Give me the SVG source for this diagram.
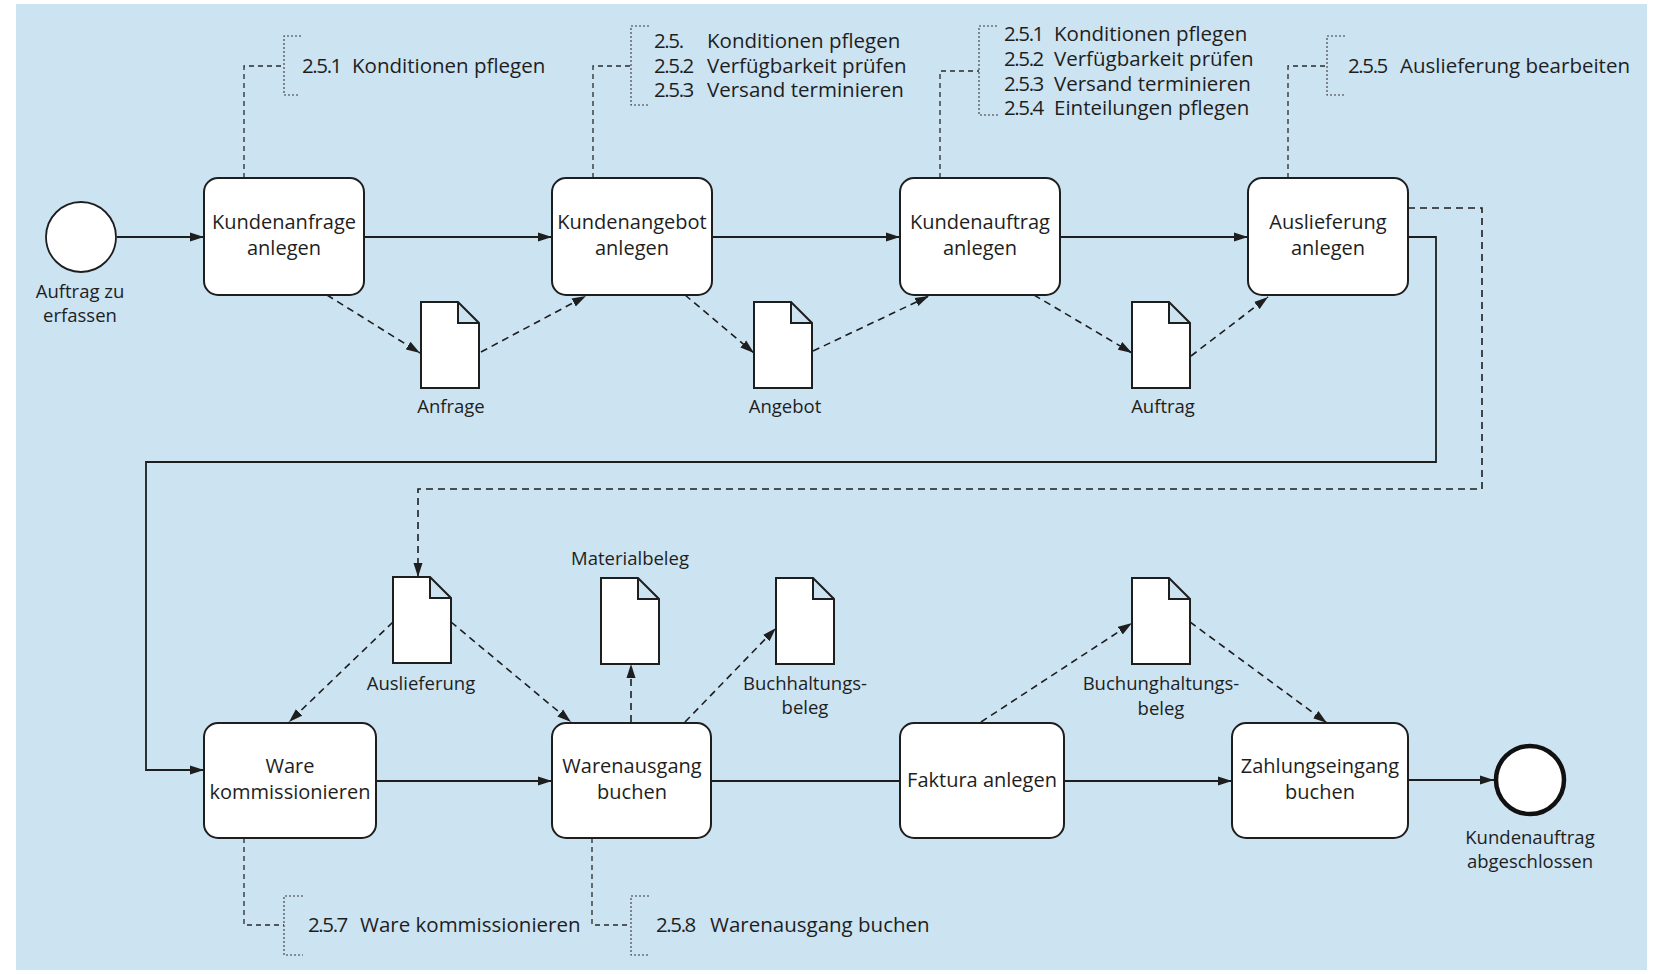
<svg xmlns="http://www.w3.org/2000/svg" width="1661" height="974" viewBox="0 0 1661 974">
  <defs>
    <marker id="arrow" viewBox="0 0 14 10" refX="14" refY="5" markerWidth="14" markerHeight="10" markerUnits="userSpaceOnUse" orient="auto">
      <path d="M0,0.5 L14,5 L0,9.5 z" fill="#1e1e1e"/>
    </marker>
    <style>
      .bg { fill: #cce3f2; }
      .task { fill: #ffffff; stroke: #1e1e1e; stroke-width: 2; }
      .doc { fill: #ffffff; stroke: #1e1e1e; stroke-width: 2; stroke-linejoin: miter; }
      .flow { fill: none; stroke: #1e1e1e; stroke-width: 1.8; }
      .assoc { fill: none; stroke: #1e1e1e; stroke-width: 1.6; stroke-dasharray: 7 5; }
      .ref { fill: none; stroke: #2a2a2a; stroke-width: 1.3; stroke-dasharray: 5 4; }
      .brace { fill: none; stroke: #3a3a3a; stroke-width: 1.1; stroke-dasharray: 2 2; }
      text { font-family: "Open Sans", "Noto Sans", "Liberation Sans", sans-serif; fill: #1e1e1e; font-weight: 500; }
      .t-task { font-size: 20px; text-anchor: middle; }
      .t-label { font-size: 18.5px; text-anchor: middle; }
      .t-note { font-size: 20.5px; }
      .t-num { font-size: 20.5px; letter-spacing: -1.4px; }
    </style>
  </defs>

  <rect class="bg" x="16" y="4" width="1631" height="966"/>

  <!-- connectors -->
  <g id="connectors">
    <!-- sequence flow, upper row -->
    <line class="flow" x1="117" y1="237" x2="204" y2="237" marker-end="url(#arrow)"/>
    <line class="flow" x1="364" y1="237" x2="552" y2="237" marker-end="url(#arrow)"/>
    <line class="flow" x1="712" y1="237" x2="900" y2="237" marker-end="url(#arrow)"/>
    <line class="flow" x1="1060" y1="237" x2="1248" y2="237" marker-end="url(#arrow)"/>
    <!-- sequence flow, wrap to lower row -->
    <polyline class="flow" points="1408,237 1436,237 1436,462 146,462 146,770 204,770" marker-end="url(#arrow)"/>
    <!-- sequence flow, lower row -->
    <line class="flow" x1="376" y1="781" x2="552" y2="781" marker-end="url(#arrow)"/>
    <line class="flow" x1="711" y1="781" x2="900" y2="781"/>
    <line class="flow" x1="1064" y1="781" x2="1232" y2="781" marker-end="url(#arrow)"/>
    <line class="flow" x1="1408" y1="780" x2="1494" y2="780" marker-end="url(#arrow)"/>

    <!-- data associations, upper row -->
    <line class="assoc" x1="327" y1="295" x2="420" y2="353" marker-end="url(#arrow)"/>
    <line class="assoc" x1="481" y1="352" x2="586" y2="296" marker-end="url(#arrow)"/>
    <line class="assoc" x1="685" y1="295" x2="754" y2="353" marker-end="url(#arrow)"/>
    <line class="assoc" x1="813" y1="351" x2="929" y2="296" marker-end="url(#arrow)"/>
    <line class="assoc" x1="1034" y1="295" x2="1132" y2="353" marker-end="url(#arrow)"/>
    <line class="assoc" x1="1191" y1="356" x2="1268" y2="297" marker-end="url(#arrow)"/>

    <!-- data associations, lower row -->
    <polyline class="assoc" points="1408,208 1482,208 1482,489 418,489 418,577" marker-end="url(#arrow)"/>
    <line class="assoc" x1="393" y1="622" x2="289" y2="722" marker-end="url(#arrow)"/>
    <line class="assoc" x1="451" y1="622" x2="571" y2="722" marker-end="url(#arrow)"/>
    <line class="assoc" x1="631" y1="722" x2="631" y2="664" marker-end="url(#arrow)"/>
    <line class="assoc" x1="685" y1="722" x2="776" y2="628" marker-end="url(#arrow)"/>
    <line class="assoc" x1="981" y1="722" x2="1132" y2="623" marker-end="url(#arrow)"/>
    <line class="assoc" x1="1190" y1="622" x2="1327" y2="723" marker-end="url(#arrow)"/>

    <!-- chapter references -->
    <polyline class="ref" points="244,178 244,66 284,66"/>
    <polyline class="brace" points="301,36 284,36 284,95 298,95"/>
    <polyline class="ref" points="593,178 593,66 631,66"/>
    <polyline class="brace" points="649,26 631,26 631,105 649,105"/>
    <polyline class="ref" points="940,178 940,71 979,71"/>
    <polyline class="brace" points="997,26 979,26 979,115 1000,115"/>
    <polyline class="ref" points="1288,178 1288,66 1327,66"/>
    <polyline class="brace" points="1345,36 1327,36 1327,95 1345,95"/>
    <polyline class="ref" points="244,838 244,925 284,925"/>
    <polyline class="brace" points="303,896 284,896 284,955 303,955"/>
    <polyline class="ref" points="592,838 592,925 631,925"/>
    <polyline class="brace" points="649,896 631,896 631,955 649,955"/>
  </g>

  <!-- events -->
  <g id="start">
    <circle cx="81" cy="237" r="35" fill="#ffffff" stroke="#1e1e1e" stroke-width="1.8"/>
    <text class="t-label" x="80" y="298">Auftrag zu</text>
    <text class="t-label" x="80" y="322">erfassen</text>
  </g>
  <g id="end">
    <circle cx="1530" cy="780" r="34" fill="#ffffff" stroke="#111111" stroke-width="4.5"/>
    <text class="t-label" x="1530" y="844">Kundenauftrag</text>
    <text class="t-label" x="1530" y="868">abgeschlossen</text>
  </g>

  <!-- tasks, upper row -->
  <g id="task-anfrage">
    <rect class="task" x="204" y="178" width="160" height="117" rx="14"/>
    <text class="t-task" x="284" y="229">Kundenanfrage</text>
    <text class="t-task" x="284" y="255">anlegen</text>
  </g>
  <g id="task-angebot">
    <rect class="task" x="552" y="178" width="160" height="117" rx="14"/>
    <text class="t-task" x="632" y="229">Kundenangebot</text>
    <text class="t-task" x="632" y="255">anlegen</text>
  </g>
  <g id="task-auftrag">
    <rect class="task" x="900" y="178" width="160" height="117" rx="14"/>
    <text class="t-task" x="980" y="229">Kundenauftrag</text>
    <text class="t-task" x="980" y="255">anlegen</text>
  </g>
  <g id="task-auslieferung">
    <rect class="task" x="1248" y="178" width="160" height="117" rx="14"/>
    <text class="t-task" x="1328" y="229">Auslieferung</text>
    <text class="t-task" x="1328" y="255">anlegen</text>
  </g>

  <!-- tasks, lower row -->
  <g id="task-kommissionieren">
    <rect class="task" x="204" y="723" width="172" height="115" rx="14"/>
    <text class="t-task" x="290" y="773">Ware</text>
    <text class="t-task" x="290" y="799">kommissionieren</text>
  </g>
  <g id="task-warenausgang">
    <rect class="task" x="552" y="723" width="159" height="115" rx="14"/>
    <text class="t-task" x="632" y="773">Warenausgang</text>
    <text class="t-task" x="632" y="799">buchen</text>
  </g>
  <g id="task-faktura">
    <rect class="task" x="900" y="723" width="164" height="115" rx="14"/>
    <text class="t-task" x="982" y="787">Faktura anlegen</text>
  </g>
  <g id="task-zahlung">
    <rect class="task" x="1232" y="723" width="176" height="115" rx="14"/>
    <text class="t-task" x="1320" y="773">Zahlungseingang</text>
    <text class="t-task" x="1320" y="799">buchen</text>
  </g>

  <!-- data objects -->
  <g id="doc-anfrage">
    <path class="doc" d="M421,302 H458 L479,323 V388 H421 Z M458,302 V323 H479"/>
    <text class="t-label" x="451" y="413">Anfrage</text>
  </g>
  <g id="doc-angebot">
    <path class="doc" d="M754,302 H791 L812,323 V388 H754 Z M791,302 V323 H812"/>
    <text class="t-label" x="785" y="413">Angebot</text>
  </g>
  <g id="doc-auftrag">
    <path class="doc" d="M1132,302 H1169 L1190,323 V388 H1132 Z M1169,302 V323 H1190"/>
    <text class="t-label" x="1163" y="413">Auftrag</text>
  </g>
  <g id="doc-auslieferung">
    <path class="doc" d="M393,577 H430 L451,598 V663 H393 Z M430,577 V598 H451"/>
    <text class="t-label" x="421" y="690">Auslieferung</text>
  </g>
  <g id="doc-materialbeleg">
    <path class="doc" d="M601,578 H638 L659,599 V664 H601 Z M638,578 V599 H659"/>
    <text class="t-label" x="630" y="565">Materialbeleg</text>
  </g>
  <g id="doc-buchhaltungsbeleg">
    <path class="doc" d="M776,578 H813 L834,599 V664 H776 Z M813,578 V599 H834"/>
    <text class="t-label" x="805" y="690">Buchhaltungs-</text>
    <text class="t-label" x="805" y="714">beleg</text>
  </g>
  <g id="doc-buchunghaltungsbeleg">
    <path class="doc" d="M1132,578 H1169 L1190,599 V664 H1132 Z M1169,578 V599 H1190"/>
    <text class="t-label" x="1161" y="690">Buchunghaltungs-</text>
    <text class="t-label" x="1161" y="715">beleg</text>
  </g>

  <!-- chapter notes -->
  <g id="note-anfrage">
    <text class="t-num" x="302" y="73">2.5.1</text>
    <text class="t-note" x="352" y="73">Konditionen pflegen</text>
  </g>
  <g id="note-angebot">
    <text class="t-num" x="654" y="48">2.5.</text>
    <text class="t-note" x="707" y="48">Konditionen pflegen</text>
    <text class="t-num" x="654" y="72.5">2.5.2</text>
    <text class="t-note" x="707" y="72.5">Verfügbarkeit prüfen</text>
    <text class="t-num" x="654" y="97">2.5.3</text>
    <text class="t-note" x="707" y="97">Versand terminieren</text>
  </g>
  <g id="note-auftrag">
    <text class="t-num" x="1004" y="41">2.5.1</text>
    <text class="t-note" x="1054" y="41">Konditionen pflegen</text>
    <text class="t-num" x="1004" y="66">2.5.2</text>
    <text class="t-note" x="1054" y="66">Verfügbarkeit prüfen</text>
    <text class="t-num" x="1004" y="91">2.5.3</text>
    <text class="t-note" x="1054" y="91">Versand terminieren</text>
    <text class="t-num" x="1004" y="115">2.5.4</text>
    <text class="t-note" x="1054" y="115">Einteilungen pflegen</text>
  </g>
  <g id="note-auslieferung">
    <text class="t-num" x="1348" y="73">2.5.5</text>
    <text class="t-note" x="1400" y="73">Auslieferung bearbeiten</text>
  </g>
  <g id="note-kommissionieren">
    <text class="t-num" x="308" y="932">2.5.7</text>
    <text class="t-note" x="360" y="932">Ware kommissionieren</text>
  </g>
  <g id="note-warenausgang">
    <text class="t-num" x="656" y="932">2.5.8</text>
    <text class="t-note" x="710" y="932">Warenausgang buchen</text>
  </g>
</svg>
